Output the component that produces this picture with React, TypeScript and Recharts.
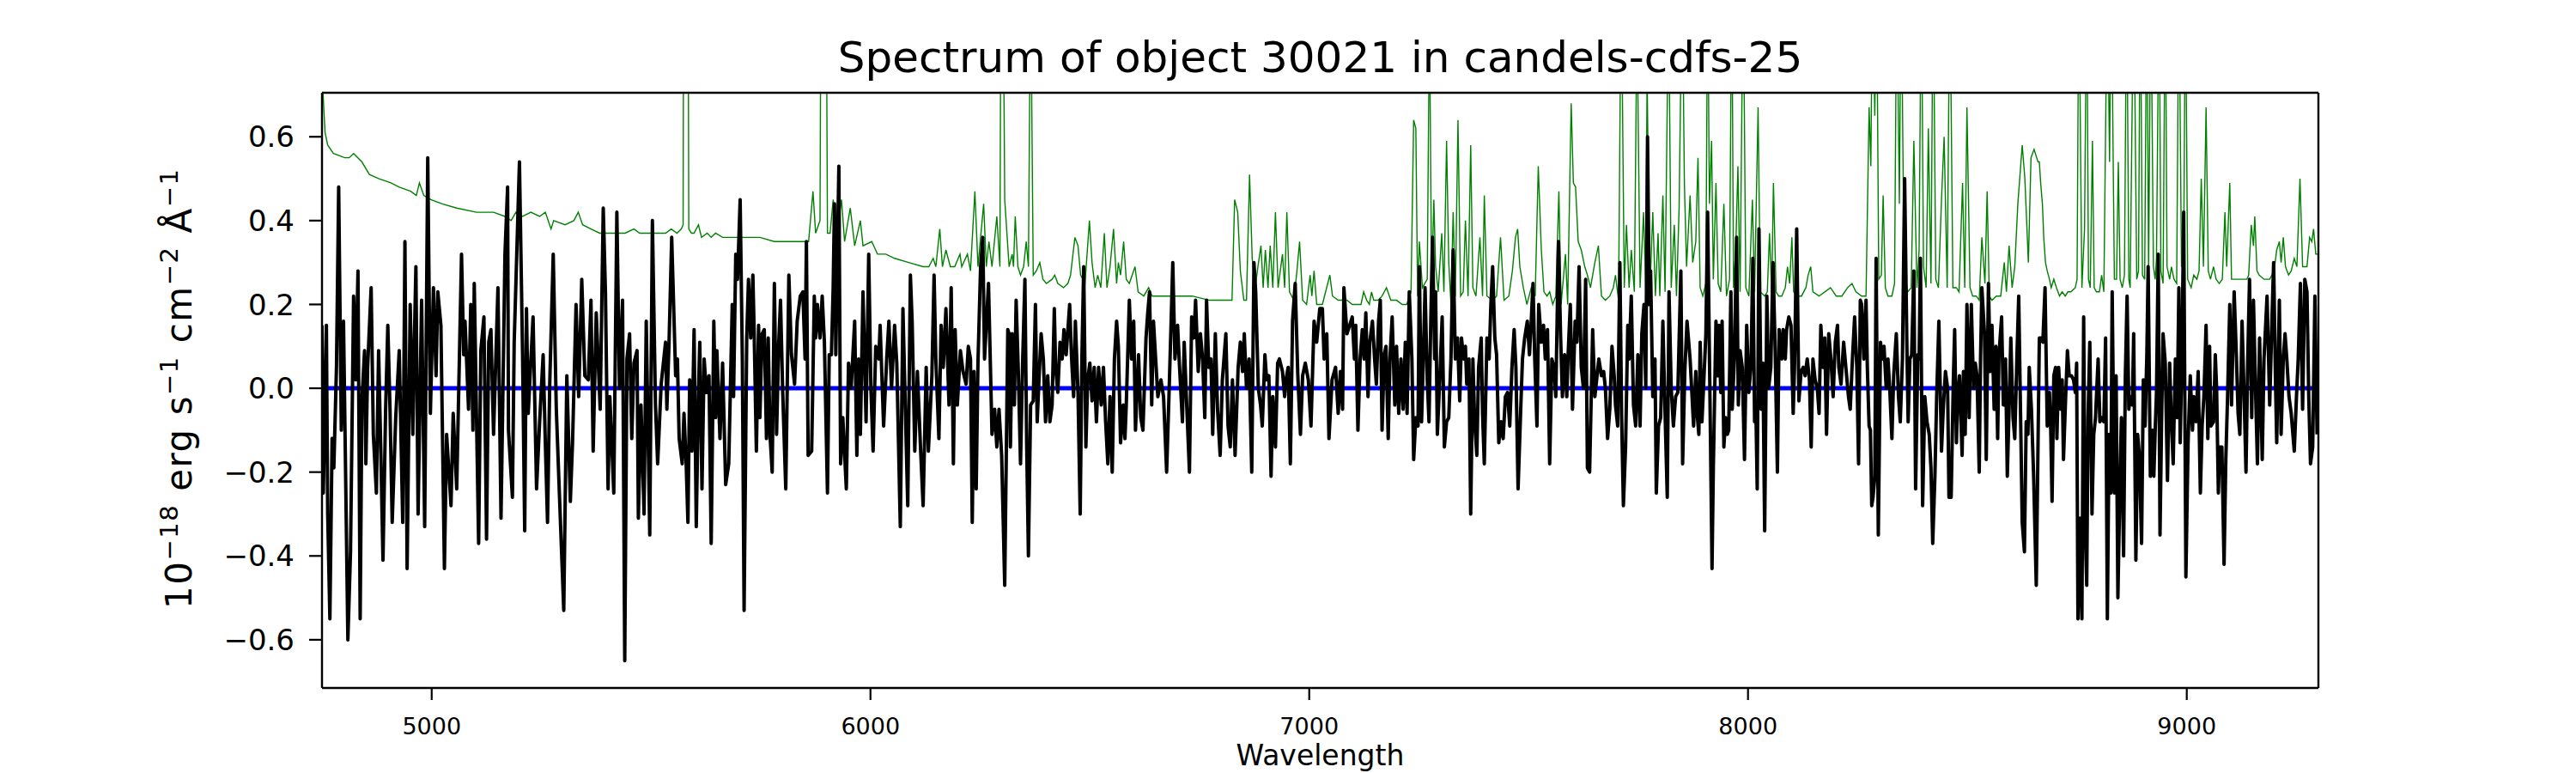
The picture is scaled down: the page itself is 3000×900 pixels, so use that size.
import { Line, LineChart, XAxis, YAxis } from "recharts";

// Spectrum of object 30021 — flux (black), noise (green), model (blue)
// values as [wavelength in Å, flux in 1e-18 erg/s/cm²/Å]

const xTicks = [5000, 6000, 7000, 8000, 9000];
const yTicks = [-0.6, -0.4, -0.2, 0, 0.2, 0.4, 0.6];
const xDomain = [4750, 9300];
const yDomain = [-0.715, 0.705];

const modelFlux: [number, number][] = [[4750, 0], [9300, 0]];

const noiseFlux: [number, number][] = [
  [4750,0.75],[4757,0.61],[4763,0.58],[4776,0.56],[4802,0.55],[4812,0.55],[4822,0.56],[4841,0.54],[4858,0.51],[4880,0.50],[4907,0.49],[4926,0.48],[4952,0.47],[4965,0.46],[4972,0.49],[4982,0.46],[4998,0.45],[5024,0.44],[5057,0.43],[5102,0.42],[5128,0.42],[5141,0.42],[5167,0.41],[5181,0.40],[5192,0.42],[5207,0.41],[5226,0.42],[5246,0.41],[5259,0.42],[5272,0.38],[5278,0.40],[5304,0.39],[5324,0.40],[5334,0.42],[5344,0.39],[5363,0.38],[5383,0.37],[5409,0.37],[5441,0.37],[5461,0.38],[5474,0.37],[5500,0.37],[5533,0.37],
  [5546,0.38],[5559,0.37],[5569,0.38],[5573,0.39],[5575,1.5],[5583,1.5],[5586,0.38],[5592,0.37],[5598,0.37],[5608,0.39],[5615,0.36],[5628,0.37],[5637,0.36],[5647,0.37],[5663,0.36],[5690,0.36],[5722,0.36],[5748,0.36],[5781,0.35],[5807,0.35],[5840,0.35],[5859,0.35],[5869,0.47],[5875,0.37],[5885,0.40],[5889,1.5],[5897,1.5],[5902,0.37],[5908,0.37],[5915,0.45],[5924,0.37],[5934,0.45],[5941,0.35],[5954,0.43],[5964,0.34],[5977,0.40],[5983,0.34],[6003,0.35],[6016,0.32],[6035,0.32],[6055,0.31],[6087,0.30],[6120,0.29],[6133,0.29],[6143,0.31],[6149,0.29],[6158,0.38],[6164,0.29],[6172,0.33],[6182,0.29],[6192,0.29],[6204,0.32],[6208,0.29],[6221,0.32],[6228,0.28],[6238,0.47],[6245,0.29],[6258,0.44],[6264,0.29],[6270,0.35],[6277,0.29],[6288,0.41],[6295,0.29],[6299,1.5],[6306,0.45],
  [6316,0.29],[6323,0.32],[6326,0.29],[6330,0.41],[6336,0.29],[6342,0.27],[6349,0.29],[6355,0.35],[6360,0.29],[6365,1.0],[6371,0.27],[6378,0.28],[6386,0.30],[6393,0.26],[6401,0.25],[6414,0.26],[6420,0.27],[6427,0.25],[6440,0.24],[6450,0.25],[6456,0.27],[6466,0.36],[6473,0.34],[6479,0.27],[6489,0.25],[6499,0.40],[6505,0.30],[6512,0.24],[6518,0.27],[6525,0.24],[6533,0.37],[6539,0.24],[6546,0.29],[6554,0.38],[6561,0.25],[6565,0.30],[6570,0.27],[6577,0.35],[6583,0.26],[6590,0.25],[6603,0.29],[6610,0.23],[6623,0.22],[6634,0.24],[6642,0.22],[6668,0.22],[6707,0.22],[6733,0.22],[6773,0.21],[6812,0.21],[6824,0.21],[6830,0.45],[6837,0.42],[6843,0.28],[6851,0.21],[6857,0.21],[6864,0.51],[6870,0.31],[6877,0.24],[6883,0.29],[6890,0.34],[6895,0.24],[6900,0.33],[6906,0.24],[6911,0.34],[6917,0.24],[6923,0.42],[6929,0.24],[6939,0.32],[6944,0.24],[6949,0.42],[6955,0.23],[6965,0.21],[6972,0.28],[6978,0.35],[6985,0.21],[6994,0.20],[7002,0.27],[7006,0.22],[7011,0.28],[7017,0.20],[7030,0.20],[7047,0.27],[7053,0.22],[7066,0.21],[7086,0.21],
  [7098,0.20],[7118,0.20],[7124,0.23],[7131,0.21],[7137,0.20],[7142,0.23],[7147,0.21],[7157,0.21],[7166,0.22],[7176,0.24],[7186,0.21],[7199,0.21],[7212,0.20],[7222,0.20],[7232,0.23],[7238,0.64],[7243,0.62],[7247,0.22],[7251,0.35],[7258,0.24],[7269,0.26],[7274,0.9],[7279,0.24],[7284,0.45],[7288,0.29],[7294,0.23],[7302,0.37],[7307,0.23],[7313,0.59],[7318,0.30],[7323,0.20],[7328,0.42],[7333,0.22],[7339,0.64],[7345,0.22],[7351,0.23],[7356,0.40],[7362,0.22],[7368,0.58],[7373,0.24],[7380,0.22],[7389,0.36],[7395,0.22],[7399,0.46],[7405,0.22],[7418,0.21],[7427,0.22],[7436,0.36],[7444,0.21],[7455,0.22],[7463,0.28],[7470,0.36],[7475,0.38],[7480,0.29],[7488,0.24],[7496,0.20],[7506,0.24],[7515,0.22],[7522,0.53],[7529,0.33],[7535,0.23],[7542,0.22],[7548,0.23],[7555,0.20],[7562,0.22],[7569,0.47],[7574,0.20],[7584,0.32],[7589,0.20],[7597,0.68],[7602,0.49],[7607,0.48],[7613,0.35],[7620,0.33],[7628,0.29],[7634,0.27],[7641,0.24],[7651,0.30],[7659,0.34],[7666,0.22],[7675,0.21],[7685,0.22],[7693,0.24],[7698,0.27],[7705,0.21],[7711,1.0],[7718,0.24],[7723,0.39],[7729,0.24],[7734,0.33],[7741,0.23],[7747,0.9],[7754,0.24],[7762,0.42],[7767,0.24],[7770,0.75],[7776,0.22],[7783,0.42],[7789,0.22],[7795,0.37],[7799,0.22],[7806,0.46],[7811,0.23],[7819,0.95],[7825,0.24],[7832,0.39],[7837,0.22],[7843,0.43],[7850,1.0],[7855,0.49],[7860,0.29],[7868,0.46],[7874,0.30],[7881,0.35],
  [7886,0.55],[7891,0.24],[7897,0.22],[7904,0.25],[7908,1.0],[7912,0.44],[7917,0.59],[7921,0.26],[7927,0.49],[7932,0.25],[7938,0.23],[7945,0.44],[7951,0.22],[7958,0.26],[7963,1.0],[7967,0.24],[7972,0.33],[7977,0.53],[7982,0.23],[7989,1.0],[7995,0.24],[8002,0.22],[8010,0.45],[8015,0.23],[8023,0.67],[8028,0.23],[8038,0.22],[8044,0.23],[8049,0.37],[8054,0.23],[8058,0.49],[8064,0.23],[8070,0.22],[8077,0.22],[8085,0.24],[8090,0.29],[8095,0.25],[8100,0.36],[8104,0.23],[8113,0.22],[8122,0.22],[8132,0.24],[8137,0.27],[8143,0.29],[8148,0.23],[8162,0.22],[8175,0.23],[8188,0.24],[8201,0.22],[8214,0.22],[8227,0.24],[8237,0.25],[8246,0.23],[8259,0.22],[8269,0.22],[8276,0.67],[8280,0.53],[8284,1.0],[8289,0.65],[8293,1.0],[8298,0.26],[8304,0.27],[8308,0.46],[8313,0.24],[8319,0.22],[8328,0.22],[8334,0.25],[8339,1.0],[8345,0.44],[8349,1.0],[8356,0.26],[8364,0.23],[8372,0.24],[8378,0.59],[8385,0.24],[8390,0.33],[8395,1.0],[8400,0.29],[8406,0.24],[8411,0.62],[8417,0.25],[8422,1.0],[8428,0.26],[8434,0.24],[8441,0.45],[8447,0.60],[8454,0.24],[8460,1.0],[8467,0.24],[8475,0.24],[8481,0.23],[8489,0.49],[8494,0.24],[8499,0.67],[8506,0.24],[8512,0.22],[8520,0.22],[8527,0.21],[8533,0.36],[8540,0.25],[8545,0.47],[8550,0.22],[8556,0.21],[8566,0.22],[8576,0.22],[8584,0.30],[8589,0.23],[8595,0.34],[8602,0.24],[8608,0.29],[8615,0.44],[8625,0.58],[8631,0.50],[8639,0.30],[8645,0.55],[8652,0.57],[8661,0.54],
  [8664,0.54],[8667,0.49],[8671,0.44],[8674,0.36],[8678,0.30],[8682,0.28],[8687,0.26],[8691,0.24],[8697,0.26],[8703,0.24],[8710,0.22],[8716,0.23],[8723,0.22],[8729,0.23],[8736,0.23],[8746,0.24],[8750,0.26],[8754,1.0],[8761,0.24],[8767,0.38],[8772,1.0],[8776,0.26],[8780,0.24],[8785,0.59],[8789,0.24],[8794,0.23],[8801,0.23],[8806,0.27],[8811,0.23],[8819,1.0],[8824,0.54],[8828,1.0],[8835,0.26],[8840,0.26],[8844,0.54],[8848,0.26],[8853,0.24],[8858,0.27],[8863,1.0],[8868,0.26],[8871,0.24],[8879,1.0],[8886,0.26],[8890,0.28],[8894,1.0],[8899,0.27],[8904,0.26],[8909,1.0],[8913,0.27],[8918,1.0],[8924,0.29],[8928,0.26],[8931,0.31],[8937,1.0],[8941,0.28],[8946,0.25],[8951,1.0],[8955,0.29],[8961,0.26],[8965,0.29],[8971,0.26],[8977,0.25],[8982,1.0],[8988,0.29],[8993,0.32],[8997,1.0],[9002,0.26],[9010,0.24],[9016,0.27],[9023,0.26],[9028,0.28],[9033,0.50],[9038,0.29],[9044,0.67],[9049,0.28],[9054,0.26],[9061,0.29],[9067,0.26],[9074,0.25],[9081,0.26],[9087,0.42],[9091,0.29],[9098,0.49],[9102,0.26],[9111,0.26],[9121,0.26],[9130,0.26],[9137,0.26],[9141,0.27],[9147,0.39],[9152,0.34],[9155,0.41],[9160,0.28],[9165,0.27],[9176,0.26],[9189,0.26],[9199,0.28],[9205,0.33],[9211,0.35],[9215,0.30],[9220,0.36],[9225,0.29],[9232,0.27],[9238,0.28],[9245,0.31],[9251,0.29],[9258,0.50],[9264,0.29],[9274,0.29],[9280,0.36],[9285,0.35],[9289,0.38],[9294,0.32],[9300,0.32],
];

const objectFlux: [number, number][] = [
  [4750,0.15],[4753,-0.25],[4760,0.15],[4763,-0.30],[4768,-0.55],[4773,-0.12],[4777,-0.19],[4783,0.05],[4788,0.48],[4794,-0.10],[4799,0.16],[4809,-0.60],[4815,-0.39],[4822,0.22],[4827,0.02],[4832,0.28],[4837,-0.55],[4841,-0.03],[4847,0.09],[4850,-0.18],[4854,0.05],[4862,0.24],[4867,-0.11],[4874,-0.25],[4879,0.09],[4884,-0.15],[4889,-0.41],[4895,-0.05],[4900,0.15],[4905,-0.05],[4910,-0.32],[4918,-0.07],[4926,0.09],[4934,-0.32],[4939,0.35],[4944,-0.43],[4951,0.20],[4957,-0.11],[4960,0.09],[4964,0.29],[4969,-0.30],[4977,0.21],[4984,-0.33],[4991,0.55],[4997,-0.06],[5004,0.24],[5010,0.03],[5014,0.23],[5021,0.15],[5029,-0.43],[5034,-0.11],[5044,-0.28],[5049,-0.06],[5057,-0.24],[5068,0.32],[5073,0.08],[5076,0.16],[5084,-0.05],[5089,0.20],[5094,-0.10],[5097,0.25],[5107,-0.37],[5112,0.09],[5119,0.17],[5125,-0.36],[5130,0.11],[5135,0.14],[5141,-0.11],[5151,0.24],[5158,-0.31],[5167,0.32],[5173,0.48],[5175,-0.10],[5184,-0.26],[5188,0.11],[5200,0.54],[5207,0.09],[5212,-0.34],[5216,0.19],[5220,-0.06],[5231,0.17],[5239,-0.24],[5246,-0.08],[5254,0.08],[5259,-0.13],[5264,-0.32],[5269,0.01],[5277,0.32],[5284,-0.05],[5291,-0.25],[5301,-0.53],[5308,0.03],[5316,-0.27],[5321,-0.13],[5329,0.20],[5335,-0.02],[5342,0.26],[5349,0.03],[5357,0.02],[5363,0.21],[5368,-0.15],[5375,0.18],[5384,-0.05],[5391,0.43],[5396,0.23],[5402,-0.24],[5406,-0.02],[5415,-0.25],[5422,0.42],[5428,0.00],[5435,0.21],[5440,-0.65],[5445,0.07],[5451,0.13],[5456,-0.12],[5461,0.06],[5468,0.09],[5471,-0.31],[5477,-0.04],[5484,-0.30],[5489,0.16],[5497,-0.35],[5503,0.40],[5510,-0.04],[5515,-0.18],[5523,0.01],[5533,0.11],
  [5536,-0.05],[5541,0.11],[5547,0.36],[5556,0.03],[5560,0.07],[5564,-0.12],[5571,-0.18],[5575,-0.06],[5580,-0.18],[5584,-0.32],[5588,0.02],[5593,-0.15],[5598,0.14],[5603,-0.33],[5608,-0.01],[5611,0.11],[5616,-0.24],[5621,0.07],[5626,-0.01],[5632,0.03],[5637,-0.37],[5643,0.16],[5647,-0.07],[5650,0.09],[5657,-0.12],[5663,0.06],[5670,-0.23],[5677,-0.18],[5685,0.20],[5688,-0.02],[5693,0.32],[5697,0.26],[5703,0.45],[5708,0.07],[5712,-0.53],[5718,0.12],[5722,0.26],[5727,0.12],[5732,0.27],[5735,0.13],[5740,-0.15],[5745,0.15],[5748,-0.07],[5753,0.13],[5758,0.14],[5763,-0.12],[5767,0.12],[5771,-0.11],[5776,-0.20],[5781,0.25],[5786,-0.11],[5791,0.11],[5795,0.21],[5800,-0.01],[5807,-0.24],[5814,0.27],[5820,0.08],[5827,0.01],[5833,0.16],[5840,0.22],[5846,0.23],[5851,0.07],[5854,0.35],[5858,-0.16],[5866,-0.15],[5872,0.22],[5875,0.12],[5879,0.20],[5885,0.12],[5890,0.22],[5895,0.11],[5902,-0.25],[5906,0.08],[5911,0.08],[5915,0.24],[5918,0.44],[5921,0.08],[5928,0.53],[5932,-0.18],[5937,-0.07],[5945,-0.24],[5950,0.06],[5956,0.00],[5964,0.16],[5969,-0.16],[5973,0.07],[5977,-0.11],[5983,0.23],[5990,-0.08],[5996,0.32],[6001,0.00],[6006,-0.15],[6012,0.10],[6019,0.07],[6022,0.15],[6030,-0.09],[6037,0.07],[6042,0.16],[6048,0.00],[6055,0.15],[6060,0.06],[6068,-0.33],[6074,0.19],[6080,-0.07],[6085,-0.28],[6091,0.27],[6095,0.16],[6101,-0.15],[6107,0.04],[6114,-0.14],[6120,-0.28],[6127,0.05],[6132,-0.15],[6140,0.03],[6145,0.27],[6149,0.07],[6156,-0.12],[6161,0.15],[6166,0.05],[6172,0.19],[6179,-0.04],[6184,0.24],[6189,-0.18],[6193,0.14],[6198,-0.04],[6205,0.09],[6211,0.04],[6218,0.01],[6223,0.10],[6228,0.07],[6232,-0.32],[6236,0.04],[6241,-0.24],[6245,0.06],[6251,0.29],[6256,0.36],[6260,0.07],[6269,0.25],[6277,-0.11],[6283,-0.05],[6288,-0.14],[6293,-0.05],[6299,-0.16],[6306,-0.47],[6313,0.14],
  [6316,0.13],[6319,-0.14],[6323,0.13],[6328,-0.04],[6332,0.21],[6337,0.04],[6342,-0.18],[6347,0.07],[6352,0.26],[6356,-0.13],[6360,-0.40],[6365,-0.04],[6371,-0.03],[6376,0.20],[6380,-0.08],[6384,0.02],[6389,0.13],[6394,0.07],[6399,-0.08],[6404,0.03],[6409,-0.08],[6414,-0.04],[6419,0.19],[6422,0.05],[6427,-0.01],[6432,0.11],[6437,0.07],[6441,0.14],[6446,0.08],[6450,0.14],[6454,0.20],[6458,0.08],[6463,-0.02],[6467,0.16],[6473,-0.01],[6478,-0.30],[6482,0.08],[6486,0.29],[6491,-0.14],[6495,0.02],[6500,0.06],[6505,-0.03],[6510,0.05],[6515,-0.08],[6520,0.05],[6526,-0.04],[6531,0.05],[6536,-0.08],[6541,-0.18],[6546,-0.02],[6551,-0.20],[6556,0.07],[6561,0.16],[6565,0.10],[6570,-0.13],[6576,-0.04],[6580,-0.12],[6583,-0.04],[6590,0.21],[6595,0.07],[6600,0.16],[6604,-0.10],[6611,0.08],[6616,-0.07],[6621,-0.10],[6628,0.12],[6632,0.18],[6636,0.23],[6641,-0.04],[6645,0.16],[6650,0.07],[6655,-0.02],[6662,0.02],[6668,-0.02],[6675,-0.20],[6680,-0.03],[6685,0.15],[6689,0.30],[6694,0.07],[6700,0.15],[6704,0.06],[6711,-0.08],[6715,0.11],[6720,-0.02],[6727,-0.20],[6732,0.17],[6737,0.12],[6741,0.21],[6747,0.04],[6752,0.13],[6757,0.07],[6762,-0.07],[6766,0.21],[6771,0.05],[6776,0.07],[6780,-0.11],[6786,0.13],[6791,-0.05],[6797,-0.16],[6802,0.02],[6810,0.13],[6815,-0.09],[6820,-0.14],[6825,0.02],[6831,-0.16],[6838,0.05],[6843,0.11],[6848,0.04],[6852,0.13],[6857,0.00],[6863,0.07],[6869,-0.20],[6874,0.30],[6878,0.23],[6884,0.00],[6889,-0.04],[6893,-0.09],[6899,0.08],[6903,0.02],[6908,0.03],[6913,-0.21],[6917,-0.02],[6923,-0.14],[6928,0.06],[6932,0.07],[6939,0.04],[6944,-0.02],[6947,0.02],[6952,0.05],[6957,-0.18],[6962,0.16],[6968,0.25],[6974,0.03],[6980,-0.11],[6985,0.03],[6991,0.06],[6998,0.02],[7004,-0.09],[7011,0.16],[7017,0.11],[7024,0.19],[7030,0.19],[7034,0.07],[7040,0.13],[7045,-0.12],[7052,0.02],[7060,0.05],[7066,-0.06],[7071,0.04],[7076,-0.05],[7079,0.24],[7086,0.13],[7095,0.16],
  [7098,0.17],[7103,0.07],[7106,0.15],[7111,-0.10],[7116,0.07],[7121,0.14],[7125,0.07],[7129,0.18],[7134,-0.02],[7138,0.11],[7144,0.16],[7149,0.07],[7153,0.01],[7158,0.16],[7162,0.21],[7166,-0.10],[7171,0.08],[7175,0.10],[7180,-0.12],[7184,0.07],[7189,0.17],[7195,-0.04],[7199,0.10],[7204,-0.06],[7209,0.07],[7214,-0.05],[7219,0.11],[7223,-0.06],[7228,0.23],[7234,0.07],[7238,-0.17],[7243,-0.07],[7248,-0.09],[7251,0.29],[7256,-0.08],[7260,0.07],[7264,0.24],[7269,0.02],[7273,-0.08],[7277,0.16],[7281,0.36],[7286,0.07],[7288,0.23],[7292,-0.11],[7297,0.01],[7303,0.17],[7308,-0.14],[7313,-0.08],[7318,-0.07],[7323,0.07],[7328,0.33],[7333,0.07],[7338,0.12],[7343,-0.03],[7347,0.12],[7352,0.07],[7356,0.10],[7359,0.01],[7364,0.07],[7368,-0.30],[7373,0.07],[7377,-0.08],[7382,-0.16],[7386,0.05],[7392,0.12],[7395,-0.06],[7399,-0.18],[7405,0.12],[7410,0.07],[7414,0.20],[7418,0.29],[7423,0.12],[7427,0.08],[7432,-0.13],[7437,-0.08],[7442,-0.12],[7447,-0.02],[7452,-0.01],[7457,-0.09],[7462,0.05],[7467,0.14],[7471,0.05],[7476,-0.24],[7482,-0.05],[7486,0.07],[7491,0.12],[7497,0.16],[7502,0.08],[7506,0.16],[7510,0.25],[7514,0.07],[7519,-0.09],[7523,0.20],[7529,0.11],[7534,0.15],[7538,0.07],[7543,0.14],[7548,-0.18],[7553,0.07],[7558,0.05],[7562,-0.02],[7568,0.35],[7573,0.12],[7577,-0.02],[7582,0.08],[7587,-0.02],[7590,0.08],[7595,0.20],[7600,-0.05],[7606,0.16],[7610,0.11],[7615,0.29],[7620,0.05],[7625,0.00],[7630,0.26],[7634,-0.19],[7639,-0.20],[7646,0.14],[7651,-0.02],[7656,0.03],[7660,0.07],[7666,0.03],[7671,0.04],[7675,0.00],[7680,-0.12],[7685,-0.05],[7690,0.10],[7695,0.03],[7698,-0.04],[7703,-0.09],[7708,0.30],[7712,-0.07],[7716,-0.28],[7721,-0.14],[7726,0.15],[7729,0.07],[7734,0.22],[7739,-0.04],[7744,-0.09],[7749,0.08],[7754,-0.09],[7758,0.13],[7763,0.20],[7767,0.00],[7771,0.60],[7775,0.20],[7778,0.28],[7783,-0.02],[7788,0.07],[7791,-0.25],[7796,-0.09],[7801,-0.07],[7806,0.16],[7810,-0.02],[7816,-0.26],[7820,0.23],[7825,0.00],[7830,-0.09],[7835,-0.02],[7840,-0.01],[7847,0.28],[7851,-0.18],[7856,0.04],[7861,0.16],[7868,0.07],[7876,-0.09],[7881,0.04],
  [7884,-0.06],[7888,-0.11],[7891,0.11],[7895,-0.08],[7899,0.01],[7904,0.13],[7908,0.42],[7914,-0.08],[7918,-0.43],[7921,-0.19],[7927,0.16],[7931,0.03],[7934,0.15],[7938,-0.01],[7941,0.16],[7945,-0.14],[7949,-0.07],[7953,-0.11],[7956,-0.10],[7961,0.23],[7964,-0.05],[7969,0.07],[7974,0.36],[7978,-0.04],[7982,0.09],[7987,0.05],[7992,-0.17],[7997,0.15],[8002,-0.01],[8007,0.06],[8011,0.31],[8015,-0.08],[8018,-0.05],[8021,-0.24],[8025,0.38],[8030,-0.05],[8034,0.06],[8038,-0.34],[8043,0.22],[8047,0.00],[8052,0.05],[8057,0.30],[8062,0.09],[8067,-0.20],[8071,0.14],[8077,0.07],[8080,0.14],[8085,0.07],[8088,0.14],[8093,0.17],[8098,0.15],[8103,-0.06],[8106,0.05],[8111,0.38],[8116,-0.03],[8121,0.04],[8126,0.05],[8130,0.03],[8135,0.07],[8140,0.02],[8144,-0.14],[8148,0.07],[8153,0.02],[8158,0.00],[8162,-0.06],[8166,0.15],[8171,0.05],[8175,0.12],[8179,-0.11],[8184,0.13],[8189,0.07],[8194,-0.02],[8199,0.11],[8204,0.15],[8207,0.05],[8212,0.01],[8218,0.11],[8223,0.05],[8229,-0.02],[8233,-0.05],[8238,0.07],[8243,0.17],[8248,0.05],[8252,-0.18],[8256,0.21],[8259,0.20],[8264,0.07],[8269,0.21],[8272,0.05],[8276,-0.09],[8279,-0.10],[8282,-0.28],[8285,-0.26],[8289,-0.21],[8292,0.31],[8297,-0.35],[8302,0.11],[8306,0.07],[8310,0.10],[8315,0.00],[8319,0.07],[8323,0.00],[8328,-0.12],[8332,0.03],[8338,0.13],[8343,-0.02],[8347,-0.08],[8352,0.07],[8357,0.50],[8362,0.11],[8365,-0.08],[8369,0.07],[8373,0.08],[8378,0.28],[8382,-0.24],[8387,0.08],[8390,0.07],[8393,0.31],[8398,-0.28],[8403,-0.02],[8408,-0.08],[8413,-0.11],[8417,-0.19],[8421,-0.37],[8426,-0.21],[8430,-0.02],[8435,0.16],[8441,-0.15],[8445,-0.05],[8450,0.04],[8455,0.00],[8458,-0.26],[8463,-0.26],[8468,0.02],[8471,0.14],[8475,-0.13],[8478,-0.02],[8482,0.03],[8488,-0.16],[8491,0.04],[8495,-0.11],[8499,0.20],[8504,-0.07],[8509,0.20],[8514,0.00],[8518,0.06],[8522,0.03],[8527,-0.20],[8530,0.07],[8533,0.24],[8539,0.13],[8543,-0.17],[8548,0.25],[8552,0.04],[8556,0.15],[8561,-0.05],[8565,0.10],[8569,-0.12],[8572,0.08],[8578,0.17],[8582,-0.04],[8587,0.07],[8591,-0.21],[8595,-0.05],[8599,0.12],[8604,-0.07],[8608,-0.12],[8613,0.08],[8617,0.22],[8621,-0.05],[8625,-0.32],[8630,-0.39],[8634,-0.08],[8638,-0.11],[8641,0.05],[8646,-0.05],[8651,-0.21],[8657,-0.47],[8664,0.12],
  [8667,0.12],[8672,0.11],[8677,0.24],[8682,-0.09],[8687,-0.01],[8690,-0.10],[8693,-0.27],[8697,0.03],[8701,0.05],[8704,-0.12],[8708,0.05],[8713,-0.05],[8716,0.02],[8719,-0.17],[8724,-0.02],[8728,0.09],[8732,0.03],[8737,0.03],[8742,0.02],[8746,-0.01],[8749,0.06],[8752,-0.55],[8757,-0.31],[8761,-0.55],[8765,0.17],[8768,-0.31],[8772,-0.47],[8775,-0.07],[8779,0.11],[8784,-0.30],[8788,-0.11],[8792,-0.07],[8798,0.07],[8802,-0.08],[8806,-0.07],[8811,-0.08],[8815,0.12],[8819,-0.55],[8823,-0.11],[8827,-0.25],[8830,0.23],[8835,-0.25],[8839,0.03],[8843,-0.50],[8848,-0.21],[8851,-0.07],[8856,-0.40],[8860,0.03],[8864,0.22],[8868,-0.05],[8871,-0.02],[8876,-0.04],[8879,0.13],[8884,-0.41],[8888,-0.11],[8892,-0.16],[8897,-0.37],[8901,0.02],[8905,-0.09],[8909,0.08],[8912,0.29],[8917,-0.21],[8922,-0.10],[8925,-0.21],[8928,-0.10],[8931,-0.01],[8935,0.32],[8939,-0.35],[8943,-0.05],[8946,0.13],[8951,0.06],[8956,-0.22],[8961,0.06],[8964,-0.05],[8969,-0.18],[8974,0.07],[8978,-0.07],[8982,0.24],[8985,-0.13],[8989,0.08],[8993,0.42],[8998,-0.45],[9003,-0.13],[9008,0.03],[9013,-0.10],[9016,-0.02],[9021,-0.08],[9026,0.04],[9031,-0.25],[9035,-0.09],[9039,-0.02],[9044,0.15],[9048,-0.12],[9052,0.10],[9055,-0.09],[9061,-0.08],[9065,0.08],[9068,0.00],[9072,-0.25],[9075,-0.14],[9080,-0.14],[9085,-0.42],[9089,-0.17],[9093,-0.02],[9098,0.20],[9102,-0.04],[9108,0.23],[9113,0.08],[9117,-0.06],[9121,-0.11],[9126,0.16],[9130,0.01],[9135,-0.20],[9139,0.07],[9143,0.26],[9148,-0.07],[9152,0.21],[9156,0.03],[9161,-0.18],[9166,0.12],[9172,-0.17],[9176,0.07],[9183,0.22],[9189,-0.04],[9194,0.16],[9198,0.30],[9202,0.03],[9205,-0.13],[9211,0.21],[9215,-0.11],[9220,0.07],[9224,0.13],[9228,0.07],[9233,-0.02],[9238,-0.06],[9245,-0.15],[9250,-0.02],[9254,0.07],[9259,0.25],[9264,-0.05],[9269,0.26],[9274,0.23],[9278,-0.02],[9282,-0.18],[9287,-0.14],[9292,0.22],[9297,-0.11],
];

const FONT = "DejaVu Sans";

const toRows = (pts: [number, number][]) => pts.map(([w, v]) => ({ w, v }));

const fmtY = (v: number) => {
  if (Math.abs(v) < 1e-9) return "0.0";
  return (v < 0 ? "\u2212" : "") + Math.abs(v).toFixed(1);
};

const frame = { stroke: "#000", strokeWidth: 2.4 };

export default function App() {
  const sup = 29;
  return (
    <div
      style={{
        position: "absolute",
        left: 0,
        top: 0,
        width: 3000,
        height: 900,
        background: "#fff",
        fontFamily: FONT,
      }}
    >
      {/* top axis and right axis are 1px wide only so that they draw the box */}
      <LineChart width={3000} height={900} margin={{ top: 107, right: 299, bottom: 0, left: 0 }}>
        <XAxis
          xAxisId="b"
          dataKey="w"
          type="number"
          domain={xDomain}
          ticks={xTicks}
          allowDataOverflow
          height={99}
          tickSize={14}
          tickMargin={21}
          tick={{ fontSize: 27, fill: "#000", fontFamily: FONT }}
          tickLine={{ stroke: "#000", strokeWidth: 2.2 }}
          axisLine={frame}
        />
        <XAxis
          xAxisId="t"
          orientation="top"
          type="number"
          domain={xDomain}
          allowDataOverflow
          height={1}
          tick={false}
          tickLine={false}
          axisLine={frame}
        />
        <YAxis
          yAxisId="l"
          type="number"
          domain={yDomain}
          ticks={yTicks}
          allowDataOverflow
          width={375}
          tickSize={15}
          tickMargin={17}
          tickFormatter={fmtY}
          tick={{ fontSize: 34, fill: "#000", fontFamily: FONT }}
          tickLine={{ stroke: "#000", strokeWidth: 2.2 }}
          axisLine={frame}
        />
        <YAxis
          yAxisId="r"
          orientation="right"
          type="number"
          domain={yDomain}
          allowDataOverflow
          width={1}
          tick={false}
          tickLine={false}
          axisLine={frame}
        />
        <Line
          xAxisId="b"
          yAxisId="l"
          data={toRows(noiseFlux)}
          dataKey="v"
          type="linear"
          stroke="#008000"
          strokeWidth={1.4}
          dot={false}
          activeDot={false}
          isAnimationActive={false}
        />
        <Line
          xAxisId="b"
          yAxisId="l"
          data={toRows(modelFlux)}
          dataKey="v"
          type="linear"
          stroke="#0000ff"
          strokeWidth={5}
          dot={false}
          activeDot={false}
          isAnimationActive={false}
        />
        <Line
          xAxisId="b"
          yAxisId="l"
          data={toRows(objectFlux)}
          dataKey="v"
          type="linear"
          stroke="#000"
          strokeWidth={4}
          strokeLinejoin="round"
          dot={false}
          activeDot={false}
          isAnimationActive={false}
        />
      </LineChart>
      <svg
        width={3000}
        height={900}
        style={{ position: "absolute", left: 0, top: 0, pointerEvents: "none" }}
      >
        <text x={1537.5} y={84} textAnchor="middle" fontSize={50} fontFamily={FONT} fill="#000">
          Spectrum of object 30021 in candels-cdfs-25
        </text>
        <text x={1537.5} y={891} textAnchor="middle" fontSize={33} fontFamily={FONT} fill="#000">
          Wavelength
        </text>
        <text
          transform="translate(223,453) rotate(-90)"
          textAnchor="middle"
          fontSize={42}
          fontFamily={FONT}
          fill="#000"
          textLength={512}
          lengthAdjust="spacing"
        >
          10
          <tspan dy={-16} fontSize={sup}>{"\u221218"}</tspan>
          <tspan dy={16}>{" erg s"}</tspan>
          <tspan dy={-16} fontSize={sup}>{"\u22121"}</tspan>
          <tspan dy={16}>{" cm"}</tspan>
          <tspan dy={-16} fontSize={sup}>{"\u22122"}</tspan>
          <tspan dy={16}>{" \u00c5"}</tspan>
          <tspan dy={-16} fontSize={sup}>{"\u22121"}</tspan>
        </text>
      </svg>
    </div>
  );
}
